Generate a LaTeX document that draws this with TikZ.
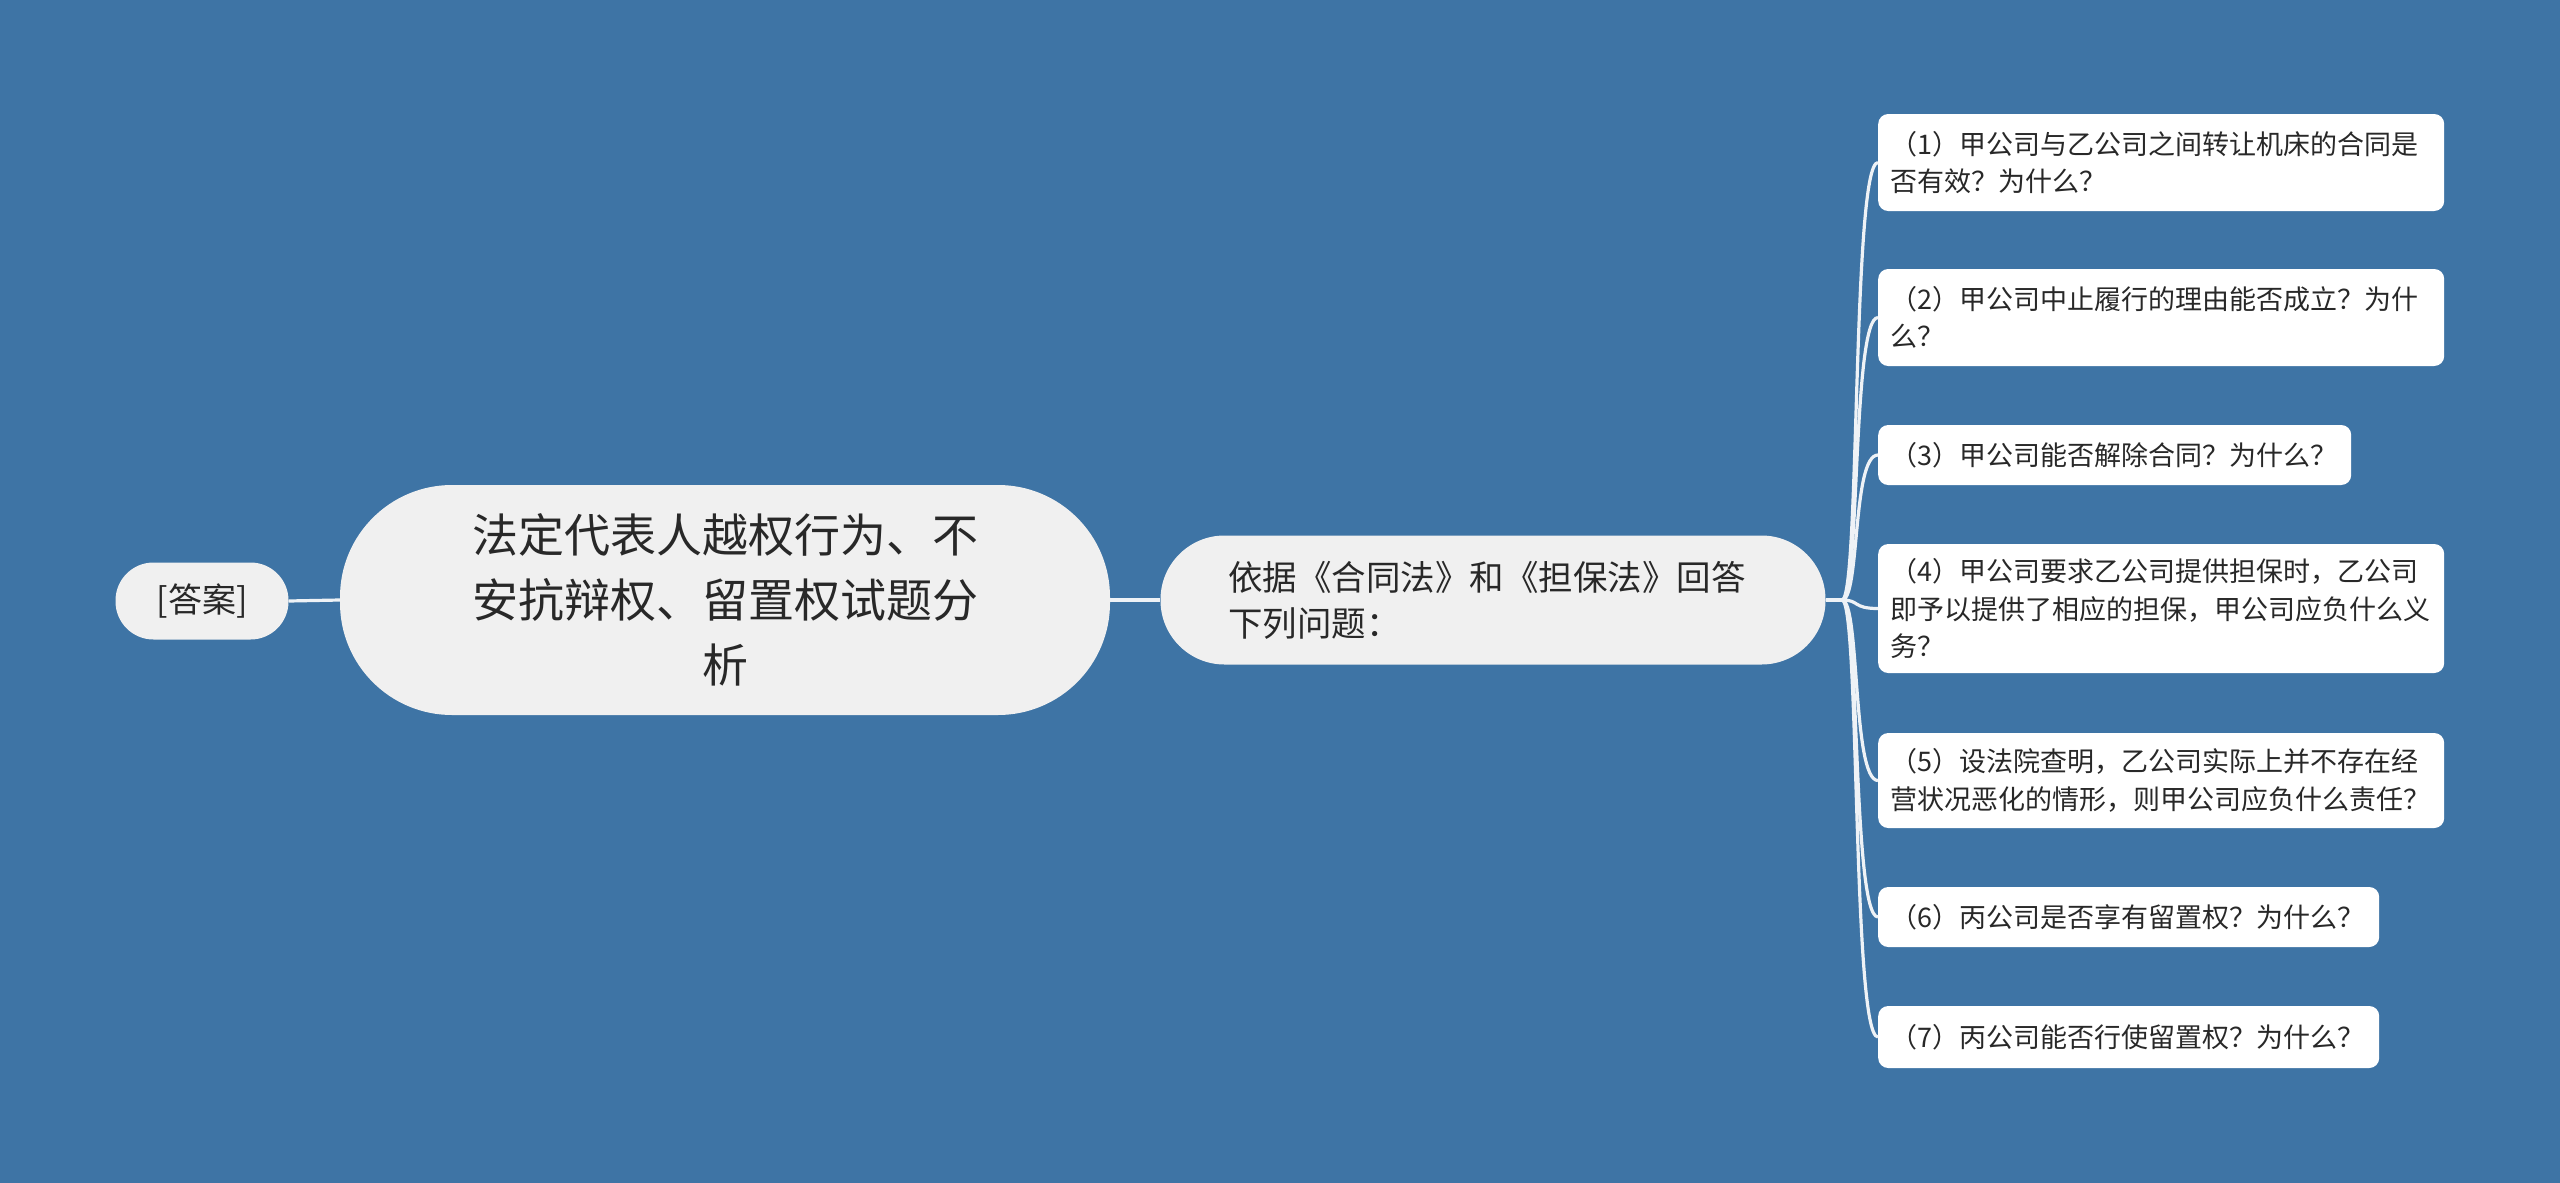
\documentclass[tikz,border=0pt]{standalone}
\usepackage{fontspec}
\setmainfont{Noto Sans CJK SC}
\definecolor{bgblue}{RGB}{62,116,165}
\definecolor{nodegray}{RGB}{240,240,240}
\definecolor{txt}{RGB}{40,40,40}
\definecolor{linecol}{RGB}{238,242,246}
\begin{document}
\begin{tikzpicture}[x=1pt,y=-1pt,
  conn/.style={draw=linecol,line width=3.2pt},
  bignode/.style={fill=nodegray,draw=none,text=txt,inner sep=0pt},
  leaf/.style={fill=white,draw=none,rounded corners=10pt,text=txt,anchor=west,
    align=left,inner xsep=12pt,inner ysep=0pt,font=\fontsize{27}{37.5}\selectfont}]
\fill[bgblue] (0,0) rectangle (2560,1183);
\useasboundingbox (0,0) rectangle (2560,1183);

\node[bignode,rounded corners=38pt,minimum width=173pt,minimum height=77pt,
  font=\fontsize{34}{46}\selectfont] (ans) at (202,601) {[答案]};

\node[bignode,rounded corners=112pt,minimum width=770pt,minimum height=230pt,
  text width=540pt,align=center,font=\fontsize{46}{65}\selectfont] (root) at (725,600)
  {法定代表人越权行为、不\\安抗辩权、留置权试题分\\析};

\node[bignode,rounded corners=64pt,minimum width=665pt,minimum height=129pt,
  text width=530pt,align=left,font=\fontsize{34.5}{46}\selectfont] (mid) at (1493,600)
  {依据《合同法》和《担保法》回答\\下列问题：};

\node[leaf,text width=542pt,minimum height=97pt] (l1) at (1878,162.5)
  {（1）甲公司与乙公司之间转让机床的合同是\\否有效？为什么？};
\node[leaf,text width=542pt,minimum height=97pt] (l2) at (1878,317.5)
  {（2）甲公司中止履行的理由能否成立？为什\\么？};
\node[leaf,text width=449pt,minimum height=60pt] (l3) at (1878,455)
  {（3）甲公司能否解除合同？为什么？};
\node[leaf,text width=542pt,minimum height=129pt] (l4) at (1878,608.5)
  {（4）甲公司要求乙公司提供担保时，乙公司\\即予以提供了相应的担保，甲公司应负什么义\\务？};
\node[leaf,text width=542pt,minimum height=95pt] (l5) at (1878,780.5)
  {（5）设法院查明，乙公司实际上并不存在经\\营状况恶化的情形，则甲公司应负什么责任？};
\node[leaf,text width=477pt,minimum height=60pt] (l6) at (1878,917)
  {（6）丙公司是否享有留置权？为什么？};
\node[leaf,text width=477pt,minimum height=62pt] (l7) at (1878,1037)
  {（7）丙公司能否行使留置权？为什么？};

\draw[conn] (ans.east) -- (root.west);
\draw[conn] (root.east) -- (mid.west);
\coordinate (fork) at (1842,600);
\draw[conn] (mid.east) -- (fork);
\draw[conn] (fork) .. controls (1860,600) and (1852,162.5) .. (l1.west);
\draw[conn] (fork) .. controls (1860,600) and (1852,317.5) .. (l2.west);
\draw[conn] (fork) .. controls (1860,600) and (1852,455) .. (l3.west);
\draw[conn] (fork) .. controls (1860,600) and (1852,608.5) .. (l4.west);
\draw[conn] (fork) .. controls (1860,600) and (1852,780.5) .. (l5.west);
\draw[conn] (fork) .. controls (1860,600) and (1852,917) .. (l6.west);
\draw[conn] (fork) .. controls (1860,600) and (1852,1037) .. (l7.west);
\end{tikzpicture}
\end{document}
